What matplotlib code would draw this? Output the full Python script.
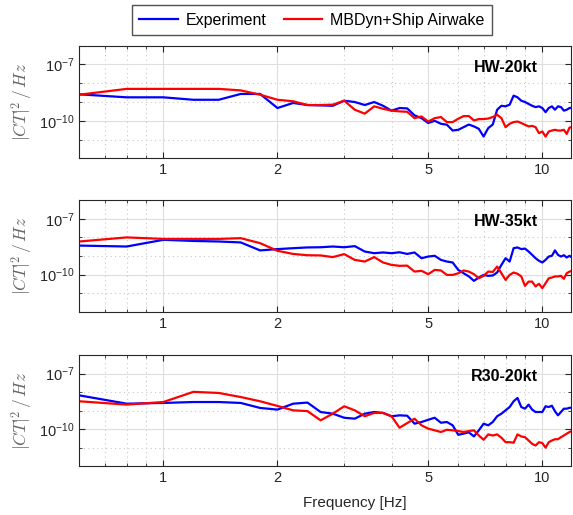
#!/usr/bin/env python3
import numpy as np
import matplotlib
matplotlib.use('Agg')
import matplotlib.pyplot as plt
from matplotlib.ticker import FixedLocator, FixedFormatter, NullFormatter

plt.rcParams['font.family'] = ['Liberation Sans', 'DejaVu Sans']
plt.rcParams['mathtext.fontset'] = 'custom'
plt.rcParams['mathtext.rm'] = 'Liberation Sans'
plt.rcParams['mathtext.it'] = 'Liberation Sans:italic'
plt.rcParams['mathtext.bf'] = 'Liberation Sans:bold'

# frequency grid of the PSD estimate [Hz]
freq = np.round(np.arange(0.6, 12.01, 0.2), 1)

# log10 of thrust coefficient PSD
hw20_exp = [-8.59, -8.75, -8.75, -8.88, -8.88, -8.57, -8.57, -9.32, -9.05, -9.16,
            -9.18, -9.20, -8.93, -9.00, -9.16, -9.00, -9.20, -9.46, -9.32, -9.34,
            -9.71, -9.86, -10.12, -10.00, -10.16, -10.21, -10.52, -10.48, -10.34, -10.20,
            -10.30, -10.43, -10.84, -10.39, -10.20, -9.41, -9.20, -9.23, -9.14, -8.66,
            -8.75, -8.93, -9.00, -9.10, -9.20, -9.27, -9.23, -9.32, -9.54, -9.32,
            -9.23, -9.41, -9.23, -9.27, -9.46, -9.41, -9.32, -9.30]
hw20_sim = [-8.61, -8.30, -8.30, -8.30, -8.30, -8.38, -8.61, -8.88, -8.96, -9.16,
            -9.16, -9.14, -8.93, -9.41, -9.62, -9.23, -9.36, -9.46, -9.50, -9.52,
            -9.86, -9.77, -10.04, -9.86, -9.80, -10.07, -10.07, -9.89, -9.75, -9.75,
            -9.98, -9.91, -9.91, -9.88, -9.80, -9.68, -9.86, -10.34, -10.16, -10.07,
            -10.04, -10.12, -10.21, -10.30, -10.27, -10.34, -10.66, -10.57, -10.84, -10.57,
            -10.52, -10.48, -10.52, -10.52, -10.48, -10.70, -10.36, -10.34]

hw35_exp = [-8.44, -8.49, -8.13, -8.19, -8.22, -8.27, -8.70, -8.63, -8.58, -8.54,
            -8.53, -8.49, -8.53, -8.47, -8.76, -8.85, -8.81, -8.85, -8.80, -8.89,
            -8.81, -9.12, -9.03, -8.99, -9.21, -9.30, -9.35, -9.75, -9.93, -10.10,
            -10.34, -10.16, -10.02, -10.07, -10.05, -9.89, -9.48, -9.12, -9.30, -8.58,
            -8.54, -8.63, -8.60, -8.76, -8.94, -9.12, -9.26, -9.35, -9.21, -9.03,
            -8.99, -8.70, -8.94, -9.03, -8.96, -9.08, -8.99, -9.10]
hw35_sim = [-8.22, -8.00, -8.08, -8.08, -8.08, -8.04, -8.31, -8.72, -8.89, -8.96,
            -8.97, -9.06, -8.90, -9.21, -9.30, -9.06, -9.35, -9.48, -9.53, -9.52,
            -9.84, -9.80, -9.98, -9.75, -9.78, -10.02, -10.02, -9.93, -9.78, -9.84,
            -9.98, -10.20, -10.07, -9.84, -9.86, -9.57, -9.93, -10.29, -10.02, -9.89,
            -9.96, -10.10, -10.61, -10.38, -10.38, -10.64, -10.50, -10.73, -10.47, -10.20,
            -10.16, -10.10, -10.10, -10.07, -10.23, -9.93, -9.84, -9.80]

r30_exp = [-8.18, -8.63, -8.59, -8.54, -8.54, -8.59, -8.86, -8.95, -8.63, -8.57,
           -9.08, -9.17, -9.39, -9.44, -9.17, -9.08, -9.13, -9.31, -9.26, -9.28,
           -9.71, -9.62, -9.50, -9.39, -9.66, -9.62, -9.80, -10.31, -10.25, -10.18,
           -10.40, -10.07, -9.71, -9.80, -9.62, -9.31, -9.17, -8.99, -8.81, -8.50,
           -8.32, -8.81, -8.90, -8.68, -8.95, -9.08, -9.08, -9.08, -8.77, -8.81,
           -8.74, -9.04, -9.26, -9.08, -8.90, -8.90, -8.85, -8.85]
r30_sim = [-8.50, -8.68, -8.54, -7.99, -8.05, -8.27, -8.50, -8.75, -8.99, -9.03,
           -9.53, -9.17, -8.77, -8.99, -9.31, -9.13, -9.13, -9.31, -9.93, -9.68,
           -9.44, -9.80, -9.98, -10.07, -10.16, -10.04, -10.07, -10.11, -10.16, -10.11,
           -10.07, -10.35, -10.58, -10.29, -10.35, -10.29, -10.47, -10.71, -10.71, -10.74,
           -10.29, -10.40, -10.44, -10.62, -10.80, -10.89, -10.71, -10.76, -11.01, -10.71,
           -10.62, -10.55, -10.55, -10.44, -10.35, -10.25, -10.16, -10.10]

cases = ['HW-20kt', 'HW-35kt', 'R30-20kt']
exp_data = [hw20_exp, hw35_exp, r30_exp]
sim_data = [hw20_sim, hw35_sim, r30_sim]

xticks = [1, 2, 5, 10]
xminor = [0.6, 0.7, 0.8, 0.9, 3, 4, 6, 7, 8, 9]
yticks = [1e-10, 1e-7]
yticklabels = ['$10^{-10}$', '$10^{-7}$']
yminor = [1e-12, 1e-11, 1e-9, 1e-8, 1e-6]

txt = '#262626'


def main():
    fig = plt.figure(figsize=(5.73, 5.15), dpi=100)
    bottoms = [0.6926, 0.3948, 0.0951]
    heights = [0.2186, 0.2163, 0.2155]
    axes = []
    for i, case in enumerate(cases):
        ax = fig.add_axes([0.1384, bottoms[i], 0.858, heights[i]])
        l1, = ax.plot(freq, 10.0 ** np.array(exp_data[i]), color='#0000ff', lw=1.6,
                      label='Experiment')
        l2, = ax.plot(freq, 10.0 ** np.array(sim_data[i]), color='#ff0000', lw=1.6,
                      label='MBDyn+Ship Airwake')
        ax.set_xscale('log')
        ax.set_yscale('log')
        ax.set_xlim(0.6, 11.9)
        ax.set_ylim(1e-12, 1e-6)
        ax.xaxis.set_major_locator(FixedLocator(xticks))
        ax.xaxis.set_major_formatter(FixedFormatter([str(t) for t in xticks]))
        ax.xaxis.set_minor_locator(FixedLocator(xminor))
        ax.xaxis.set_minor_formatter(NullFormatter())
        ax.yaxis.set_major_locator(FixedLocator(yticks))
        ax.yaxis.set_major_formatter(FixedFormatter(yticklabels))
        ax.yaxis.set_minor_locator(FixedLocator(yminor))
        ax.yaxis.set_minor_formatter(NullFormatter())
        ax.grid(which='major', color='#dedede', lw=0.8, ls='-')
        ax.grid(which='minor', color='#c8c8c8', lw=0.8, ls=(0, (1, 3)))
        ax.set_axisbelow(True)
        ax.tick_params(which='both', direction='in', top=True, right=True,
                       colors=txt, labelsize=10.5)
        ax.tick_params(which='major', length=4)
        ax.tick_params(which='minor', length=2)
        for s in ax.spines.values():
            s.set_color(txt)
            s.set_linewidth(0.8)
        ax.set_ylabel(r'$|CT|^2\,/\,Hz$', math_fontfamily='cm', fontsize=12.5,
                      color='#666666', labelpad=3)
        ax.text(0.933, 0.81, case, transform=ax.transAxes, ha='right', va='center',
                fontsize=11.5, fontweight='bold', color='black')
        axes.append(ax)

    axes[-1].set_xlabel('Frequency [Hz]', fontsize=11, color=txt, labelpad=5)
    axes[-1].xaxis.set_label_coords(0.56, -0.27)
    fig.legend(handles=[l1, l2], loc='center', bbox_to_anchor=(0.5445, 0.961),
               ncol=2, fontsize=11.5, frameon=True, fancybox=False, edgecolor=txt,
               handlelength=2.4, columnspacing=1.1, borderpad=0.45,
               handletextpad=0.5)
    fig.savefig('out.png', dpi=100)


if __name__ == '__main__':
    main()
